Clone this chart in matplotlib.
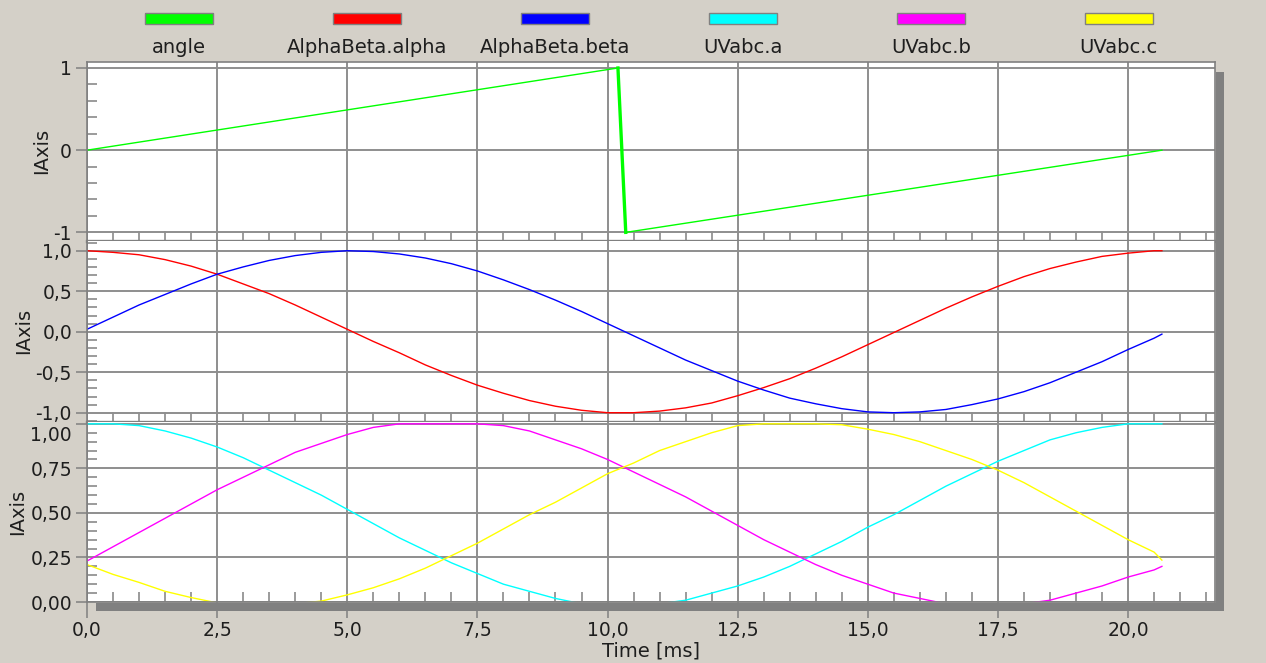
import matplotlib.pyplot as plt
import matplotlib.transforms as mtransforms
from matplotlib.patches import Rectangle
from matplotlib.ticker import MultipleLocator, FixedLocator, FuncFormatter

# sample times [ms]
t_ms = [0.0, 0.5, 1.0, 1.5, 2.0, 2.5, 3.0, 3.5, 4.0, 4.5, 5.0, 5.5, 6.0, 6.5,
        7.0, 7.5, 8.0, 8.5, 9.0, 9.5, 10.0, 10.5, 11.0, 11.5, 12.0, 12.5,
        13.0, 13.5, 14.0, 14.5, 15.0, 15.5, 16.0, 16.5, 17.0, 17.5, 18.0,
        18.5, 19.0, 19.5, 20.0, 20.5, 20.65]

# angle (sawtooth)
angle_t = [0.0, 10.2, 10.35, 20.65]
angle_val = [0.0, 1.0, -1.0, 0.0]

ab_alpha = [1.00, 0.98, 0.95, 0.89, 0.81, 0.71, 0.59, 0.47, 0.33, 0.18,
            0.03, -0.12, -0.26, -0.41, -0.54, -0.66, -0.76, -0.85, -0.92, -0.97,
            -1.00, -1.00, -0.98, -0.94, -0.88, -0.79, -0.69, -0.58, -0.45, -0.31,
            -0.16, -0.01, 0.14, 0.29, 0.43, 0.56, 0.68, 0.78, 0.86, 0.93,
            0.97, 1.00, 1.00]
ab_beta = [0.03, 0.18, 0.33, 0.46, 0.59, 0.71, 0.80, 0.88, 0.94, 0.98,
           1.00, 0.99, 0.96, 0.91, 0.84, 0.75, 0.64, 0.52, 0.39, 0.25,
           0.10, -0.05, -0.20, -0.35, -0.48, -0.61, -0.72, -0.82, -0.89, -0.95,
           -0.99, -1.00, -0.99, -0.96, -0.90, -0.83, -0.74, -0.63, -0.50, -0.37,
           -0.22, -0.08, -0.03]

uv_a = [1.00, 1.00, 0.99, 0.96, 0.92, 0.87, 0.81, 0.74, 0.67, 0.60,
        0.52, 0.44, 0.36, 0.29, 0.22, 0.16, 0.10, 0.06, 0.02, -0.01,
        -0.02, -0.02, -0.01, 0.01, 0.05, 0.09, 0.14, 0.20, 0.27, 0.34,
        0.42, 0.49, 0.57, 0.65, 0.72, 0.79, 0.85, 0.91, 0.95, 0.98,
        1.00, 1.00, 1.00]
uv_b = [0.23, 0.31, 0.39, 0.47, 0.55, 0.63, 0.70, 0.77, 0.84, 0.89,
        0.94, 0.98, 1.00, 1.00, 1.00, 1.00, 0.99, 0.96, 0.91, 0.86,
        0.80, 0.73, 0.66, 0.59, 0.51, 0.43, 0.35, 0.28, 0.21, 0.15,
        0.10, 0.05, 0.02, -0.01, -0.02, -0.02, -0.01, 0.01, 0.05, 0.09,
        0.14, 0.18, 0.20]
uv_c = [0.21, 0.155, 0.11, 0.06, 0.025, -0.005, -0.02, -0.02, -0.01, 0.005,
        0.04, 0.08, 0.13, 0.19, 0.26, 0.33, 0.41, 0.49, 0.56, 0.64,
        0.72, 0.78, 0.85, 0.90, 0.95, 0.99, 1.00, 1.00, 1.00, 0.995,
        0.97, 0.94, 0.90, 0.85, 0.80, 0.74, 0.67, 0.59, 0.51, 0.43,
        0.35, 0.28, 0.235]

series_names = ['angle', 'AlphaBeta.alpha', 'AlphaBeta.beta',
                'UVabc.a', 'UVabc.b', 'UVabc.c']
series_colors = ['#00ff00', '#ff0000', '#0000ff', '#00ffff', '#ff00ff', '#ffff00']

top_ticks = [-1, 0, 1]
mid_ticks = [-1.0, -0.5, 0.0, 0.5, 1.0]
bot_ticks = [0.0, 0.25, 0.5, 0.75, 1.0]

plt.rcParams['font.family'] = 'DejaVu Sans'
plt.rcParams['font.size'] = 14

W, H = 1266, 663
BG = '#d4d0c8'
GRAY = '#808080'
GRID = '#8e8e8e'
TXT = '#1e1e1e'

fig = plt.figure(figsize=(W / 100, H / 100), dpi=100, facecolor=BG)


def rect(x0, y0, x1, y1):
    return [x0 / W, 1 - y1 / H, (x1 - x0) / W, (y1 - y0) / H]


ax1 = fig.add_axes(rect(87, 61.5, 1215, 241))
ax2 = fig.add_axes(rect(87, 241, 1215, 421.7))
ax3 = fig.add_axes(rect(87, 421.7, 1215, 602))

# curves
ax1.plot(angle_t, angle_val, color=series_colors[0], lw=1.0)
ax1.plot(angle_t[1:3], angle_val[1:3], color=series_colors[0], lw=2.4)
ax2.plot(t_ms, ab_alpha, color=series_colors[1], lw=1.0)
ax2.plot(t_ms, ab_beta, color=series_colors[2], lw=1.0)
ax3.plot(t_ms, uv_a, color=series_colors[3], lw=1.0)
ax3.plot(t_ms, uv_b, color=series_colors[4], lw=1.0)
ax3.plot(t_ms, uv_c, color=series_colors[5], lw=1.0)

ax1.set_ylim(-1.105, 1.079)
ax2.set_ylim(-1.111, 1.12)
ax3.set_ylim(0.0, 1.012)

ax1.yaxis.set_major_locator(FixedLocator(top_ticks))
ax1.yaxis.set_minor_locator(MultipleLocator(0.2))
ax1.yaxis.set_major_formatter(FuncFormatter(lambda v, p: f"{v:.0f}"))
ax2.yaxis.set_major_locator(FixedLocator(mid_ticks))
ax2.yaxis.set_minor_locator(MultipleLocator(0.1))
ax2.yaxis.set_major_formatter(FuncFormatter(lambda v, p: f"{v:.1f}".replace('.', ',')))
ax3.yaxis.set_major_locator(FixedLocator(bot_ticks))
ax3.yaxis.set_minor_locator(MultipleLocator(0.05))
ax3.yaxis.set_major_formatter(FuncFormatter(lambda v, p: f"{v:.2f}".replace('.', ',')))
ax3.xaxis.set_major_formatter(FuncFormatter(lambda v, p: f"{v:.1f}".replace('.', ',')))

for ax in (ax1, ax2, ax3):
    ax.set_facecolor('white')
    ax.set_xlim(0, 21.67)
    ax.xaxis.set_major_locator(MultipleLocator(2.5))
    ax.xaxis.set_minor_locator(MultipleLocator(0.5))
    ax.grid(True, which='major', color=GRID, lw=1.4)
    ax.set_axisbelow(True)
    for s in ax.spines.values():
        s.set_color(GRAY)
        s.set_linewidth(1.2)
    ax.tick_params(axis='both', which='both', colors=GRAY, labelcolor=TXT,
                   labelsize=13.5)
    ax.tick_params(axis='y', which='major', direction='out', length=7.8,
                   width=1.1, pad=3)
    ax.tick_params(axis='y', which='minor', direction='in', length=7, width=1.1)
    ax.tick_params(axis='x', which='minor', direction='in', length=7, width=1.1)
    ax.set_ylabel('IAxis', labelpad=2, color=TXT)

for ax in (ax1, ax2):
    ax.tick_params(axis='x', which='major', length=0, labelbottom=False)
    ax.spines['bottom'].set_linewidth(2.4)
for ax in (ax2, ax3):
    ax.spines['top'].set_visible(False)

ax3.tick_params(axis='x', which='major', direction='out', length=11.5,
                width=1.1, pad=2.5)

# the top label of the lowest panel sits a bit lower
top_lab = ax3.yaxis.get_major_ticks()[-1].label1
top_lab.set_transform(top_lab.get_transform() +
                      mtransforms.ScaledTranslation(0, -0.095, fig.dpi_scale_trans))

fig.text(651 / W, 1 - 656.5 / H, 'Time [ms]', ha='center', va='baseline',
         color=TXT)

# shadow of the plot area
fig.patches.append(Rectangle((1215.5 / W, 1 - 611 / H), 8.5 / W, (611 - 71.5) / H,
                             transform=fig.transFigure, facecolor=GRAY,
                             edgecolor='none', zorder=5))
fig.patches.append(Rectangle((96 / W, 1 - 611 / H), (1224 - 96) / W, 8.5 / H,
                             transform=fig.transFigure, facecolor=GRAY,
                             edgecolor='none', zorder=5))

# legend
for i, (name, col) in enumerate(zip(series_names, series_colors)):
    cx = 178.8 + 188 * i
    fig.patches.append(Rectangle(((cx - 34) / W, 1 - 24.3 / H), 68 / W, 11.6 / H,
                                 transform=fig.transFigure, facecolor=col,
                                 edgecolor=GRAY, lw=1.0))
    fig.text(cx / W, 1 - 53 / H, name, ha='center', va='baseline', color=TXT)

fig.savefig('out.png', dpi=100, facecolor=BG)
